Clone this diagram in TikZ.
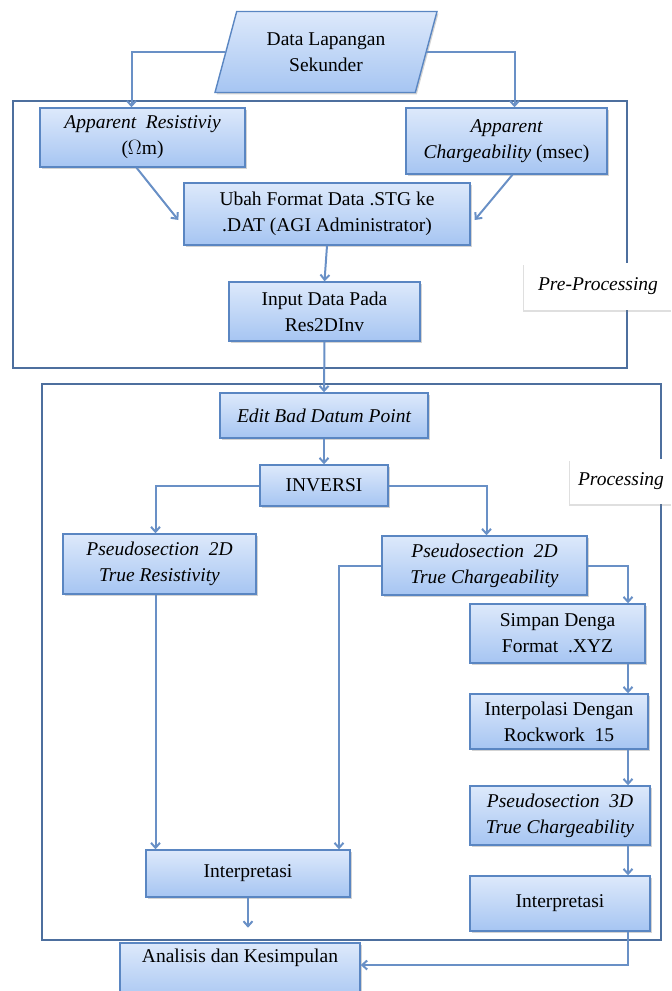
\documentclass[tikz,border=0pt]{standalone}
\usepackage{fontspec}
\setmainfont{Liberation Serif}
\usetikzlibrary{shapes.geometric,shadows,calc,arrows.meta}

\definecolor{boxtop}{HTML}{DDE9FB}
\definecolor{boxbot}{HTML}{A6C5F2}
\definecolor{boxline}{HTML}{5A86C2}
\definecolor{arrline}{HTML}{6990C6}
\definecolor{frameline}{HTML}{4D6F9E}

\begin{document}
\begin{tikzpicture}[x=1pt, y=-1pt,
	box/.style={draw=boxline, line width=1.4pt, top color=boxtop, bottom color=boxbot,
		align=center, inner sep=1pt, font=\fontsize{19.5}{26}\selectfont,
		drop shadow={shadow xshift=1.5pt, shadow yshift=-2pt, opacity=0.35}},
	tag/.style={fill=white, align=center, inner sep=0pt, font=\fontsize{19.5}{26}\selectfont\itshape,
		drop shadow={shadow xshift=-1.5pt, shadow yshift=-2pt, opacity=0.25}},
	arr/.style={draw=arrline, line width=2pt, -{Straight Barb[length=5pt,width=9pt]}},
	frame/.style={draw=frameline, line width=1.8pt}]
	\clip (0,0) rectangle (672,991);

	% frames
	\draw[frame] (13,101) rectangle (627,368);
	\draw[frame] (42,384) rectangle (661,940);

	% pre-processing
	\node[box, trapezium, trapezium left angle=75, trapezium right angle=105,
		trapezium stretches body, inner ysep=21pt, minimum width=222] (dls) at (326,52) {Data Lapangan\\Sekunder};
	\node[box, minimum width=205, minimum height=59] (ar) at (142.5,137.5) {\itshape Apparent\ \ Resistiviy\\($\Omega$m)};
	\node[box, minimum width=201, minimum height=66] (ac) at (506.5,141) {\itshape Apparent\\\itshape Chargeability {\upshape (msec)}};
	\node[box, minimum width=286, minimum height=62] (ub) at (327,214) {Ubah Format Data .STG ke\\.DAT (AGI Administrator)};
	\node[box, minimum width=191, minimum height=59] (in) at (324.5,311.5) {Input Data Pada\\Res2DInv};
	\node[tag, minimum width=148, minimum height=47] (pp) at (598,286.5) {Pre-Processing};

	% processing
	\node[box, minimum width=208, minimum height=45] (ed) at (324,415.5) {\itshape Edit Bad Datum Point};
	\node[box, minimum width=128, minimum height=41] (inv) at (324,485.5) {INVERSI};
	\node[tag, minimum width=102, minimum height=45] (pg) at (621,481.5) {Processing};
	\node[box, minimum width=193, minimum height=60] (pr) at (159.5,564) {\itshape Pseudosection\ \ 2D\\\itshape True Resistivity};
	\node[box, minimum width=205, minimum height=59] (pc) at (484.5,565.5) {\itshape Pseudosection\ \ 2D\\\itshape True Chargeability};
	\node[box, minimum width=175, minimum height=59] (si) at (557.5,633.5) {Simpan Denga\\Format\ \ .XYZ};
	\node[box, minimum width=178, minimum height=55] (ip) at (559,721.5) {Interpolasi\ Dengan\\Rockwork\ \ 15};
	\node[box, minimum width=180, minimum height=59] (p3) at (560,815.5) {\itshape Pseudosection\ \ 3D\\\itshape True Chargeability};
	\node[box, minimum width=180, minimum height=55] (ir) at (560,903.5) {Interpretasi};
	\node[box, minimum width=204, minimum height=47] (il) at (248,873.5) {Interpretasi};
	\node[box, minimum width=240, minimum height=60] (an) at (240,973) {Analisis\ dan\ Kesimpulan\\\strut};

	\coordinate (lx) at (155.5,0);
	\coordinate (mx) at (339,0);
	\coordinate (rx) at (628,0);

	% connectors
	\draw[arr] (dls.west) -| ($(ar.north)+(-11,0)$);
	\draw[arr] (dls.east) -| ($(ac.north)+(8,0)$);
	\draw[arr] ($(ar.south)+(-6,0)$) -- ($(ub.west)+(-5,6)$);
	\draw[arr] ($(ac.south)+(6,0)$) -- ($(ub.east)+(4,6)$);
	\draw[arr] (ub.south) -- (in.north);
	\draw[arr] (in.south) -- (ed.north);
	\draw[arr] (ed.south) -- (inv.north);
	\draw[arr] (inv.west) -| (pr.north -| lx);
	\draw[arr] (inv.east) -| ($(pc.north)+(2,0)$);
	\draw[arr] (pr.south -| lx) -- (il.north -| lx);
	\draw[arr] (pc.west) -| (il.north -| mx);
	\draw[arr] (pc.east) -| (si.north -| rx);
	\draw[arr] (si.south -| rx) -- (ip.north -| rx);
	\draw[arr] (ip.south -| rx) -- (p3.north -| rx);
	\draw[arr] (p3.south -| rx) -- (ir.north -| rx);
	\draw[arr] (il.south) -- ++(0,30);
	\draw[arr] (ir.south -| rx) |- ($(an.east)+(0,-8)$);
\end{tikzpicture}
\end{document}
